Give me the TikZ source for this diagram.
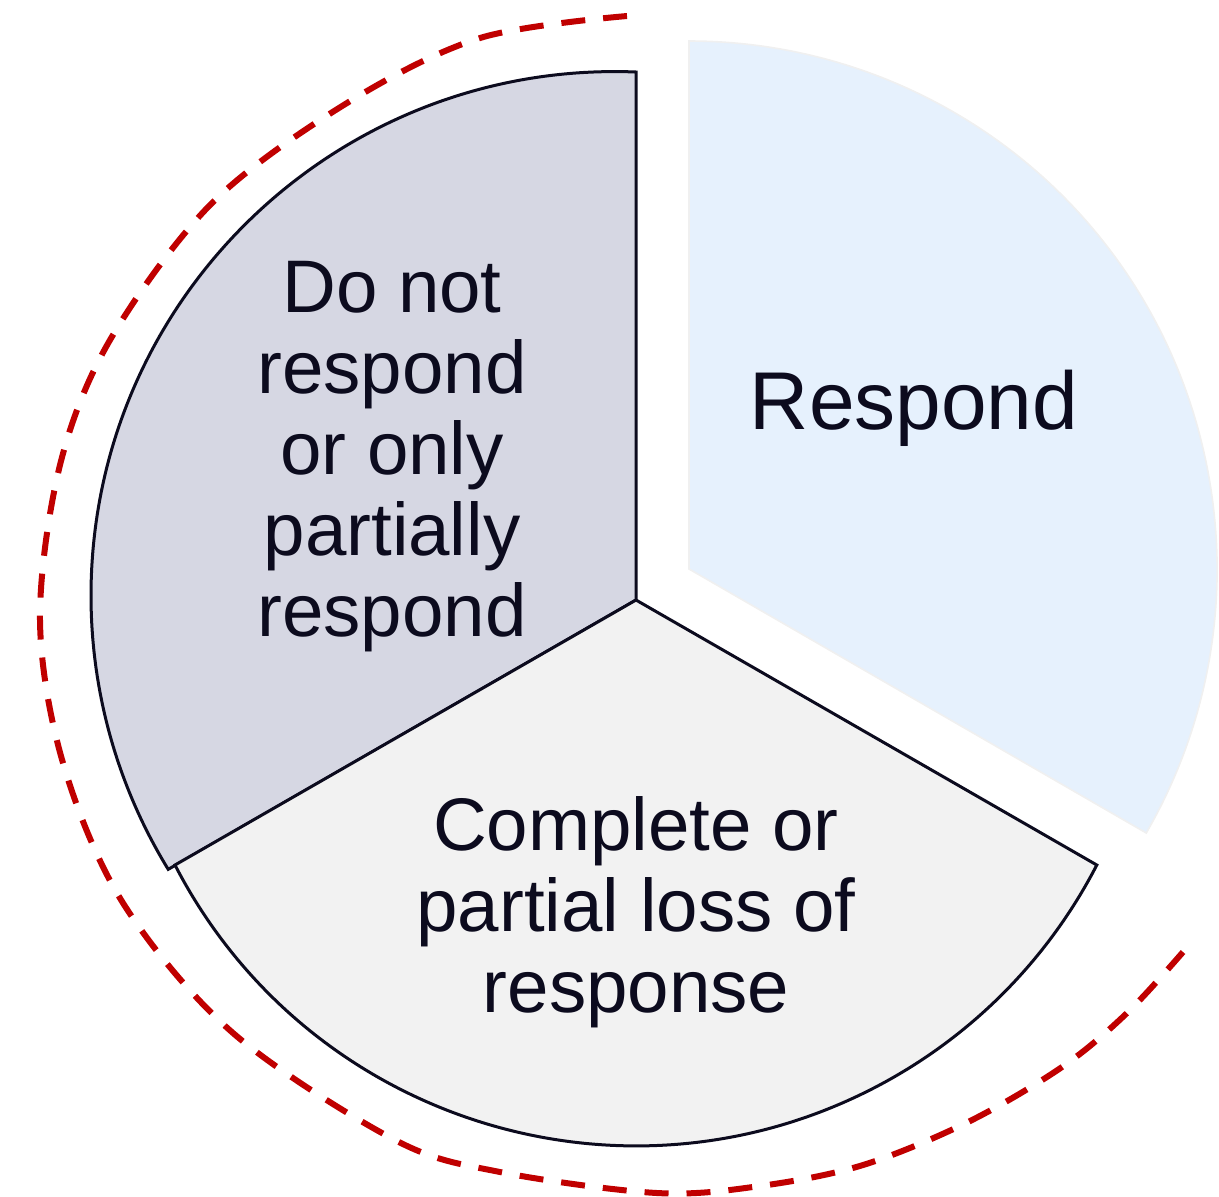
\documentclass[tikz,border=0pt]{standalone}
\usepackage{fontspec}
\setmainfont{Liberation Sans}
\usepackage{xcolor}

\definecolor{respblue}{HTML}{E6F1FD}
\definecolor{noresp}{HTML}{D6D7E3}
\definecolor{lossgray}{HTML}{F2F2F2}
\definecolor{edgeink}{HTML}{0C0B1E}
\definecolor{dashred}{HTML}{C00000}

\begin{document}
\begin{tikzpicture}[
        x=0.5pt, y=0.5pt,
        slice/.style={draw=edgeink, line width=1.5pt, line join=miter},
        slicetext/.style={text=edgeink, align=center, inner sep=0pt,
            font=\fontsize{37.25}{40.5}\selectfont},
        ring/.style={draw=dashred, line width=3pt, dash pattern=on 12pt off 9pt}
    ]
        \useasboundingbox (0,0) rectangle (1219,-1196);

        % Centres of the slices
        \coordinate (Vmain) at (636,-600);
        \coordinate (Vresp) at (689,-569);

        % Respond slice (pulled out)
        \filldraw[fill=respblue, draw=black!6, line width=0.8pt]
            (Vresp) -- ++(-30:528) arc[start angle=-30, end angle=90, radius=528] -- cycle;

        % Do not respond slice
        \filldraw[slice, fill=noresp]
            (Vmain) -- (636,-72) arc[start angle=87.7, end angle=211.5, radius=524] -- cycle;

        % Loss of response slice
        \filldraw[slice, fill=lossgray]
            (Vmain) -- (175,-865) arc[start angle=207.3, end angle=332.7, radius=518.7] -- cycle;

        % Dashed outline round the two other slices
        \draw[ring] plot[smooth, tension=0.55] coordinates {
            (627,-16) (480,-38) (347,-103) (212,-203) (110,-340) (60,-465)
            (40,-620) (63,-763) (123,-903) (233,-1033) (395,-1140) (500,-1172)
            (657,-1193) (760,-1186) (863,-1165) (968,-1122) (1062,-1067)
            (1127,-1013) (1183,-952)};

        % Labels
        \node[slicetext, font=\fontsize{41}{45}\selectfont] (Tresp) at (914,-408) {Respond};
        \node[slicetext] (Tnoresp) at (392,-457) {Do not\\respond\\or only\\partially\\respond};
        \node[slicetext] (Tloss) at (636,-912) {Complete or\\partial loss of\\response};
    \end{tikzpicture}
\end{document}
